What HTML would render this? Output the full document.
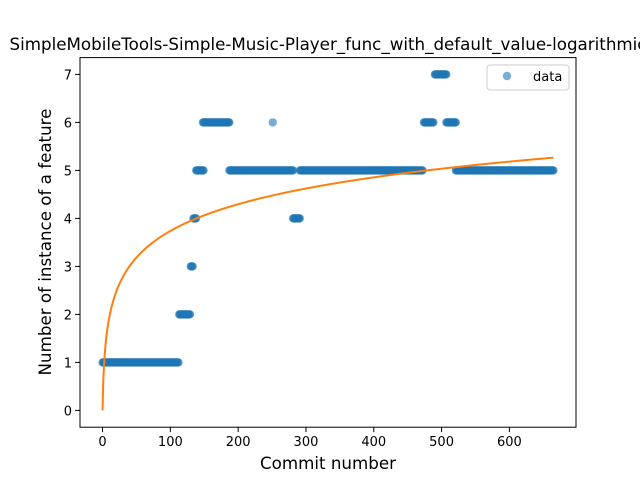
<!DOCTYPE html>
<html><head><meta charset="utf-8"><style>
body{margin:0;background:#fff}
svg{font-family:"DejaVu Sans","Liberation Sans",sans-serif}
</style></head><body>
<svg id="chart" width="640" height="480" viewBox="0 0 640 480">
<rect width="640" height="480" fill="#fff"/>
<g id="pts"></g>
<path id="fit" fill="none" stroke="#ff7f0e" stroke-width="2"/>
<rect x="80" y="57.6" width="496" height="369.6" fill="none" stroke="#000" stroke-width="1"/>
<g id="xt"></g>
<g id="yt"></g>
<text x="328" y="50" text-anchor="middle" font-size="16.7">SimpleMobileTools-Simple-Music-Player_func_with_default_value-logarithmic</text>
<text x="328" y="469" text-anchor="middle" font-size="16.7">Commit number</text>
<text transform="translate(51,242) rotate(-90)" text-anchor="middle" font-size="16.7">Number of instance of a feature</text>
<g>
<rect x="487" y="65" width="82" height="25" rx="3" fill="#fff" fill-opacity="0.8" stroke="#ccc"/>
<circle cx="507" cy="76" r="4.2" fill="#1f77b4" fill-opacity="0.6"/>
<text x="533" y="81" font-size="13">data</text>
</g>
</svg>
<script>
const segStart=[0,113,130,134,138,148,187,251,281,291,474,490,507,521];
const segEnd=[112,129,133,138,149,187,281,251,291,472,488,507,521,665];
const segValue=[1,2,3,4,5,6,5,6,4,5,6,7,6,5];
const xTicks=[0,100,200,300,400,500,600];
const yTicks=[0,1,2,3,4,5,6,7];
const fitCoef=0.81;
const xMin=-33.25,xMax=698.25,yMin=-0.35,yMax=7.35;
const L=80,R=576,T=57.6,B=427.2;
function sx(v){return L+(v-xMin)/(xMax-xMin)*(R-L);}
function sy(v){return B-(v-yMin)/(yMax-yMin)*(B-T);}
const NS="http://www.w3.org/2000/svg";
const pts=document.getElementById('pts');
for(let s=0;s<segStart.length;s++){
  for(let i=segStart[s];i<=segEnd[s];i++){
    const c=document.createElementNS(NS,'circle');
    c.setAttribute('cx',sx(i));c.setAttribute('cy',sy(segValue[s]));
    c.setAttribute('r',4.2);c.setAttribute('fill','#1f77b4');c.setAttribute('fill-opacity','0.6');
    
    
    pts.appendChild(c);
  }
}
let d='';
for(let x=0;x<=665;x+=0.5){d+=(x===0?'M':'L')+sx(x).toFixed(2)+','+sy(fitCoef*Math.log(x+1)).toFixed(2);}
document.getElementById('fit').setAttribute('d',d);
const xt=document.getElementById('xt');
xTicks.forEach(v=>{
  const l=document.createElementNS(NS,'line');
  l.setAttribute('x1',sx(v));l.setAttribute('x2',sx(v));l.setAttribute('y1',B);l.setAttribute('y2',B+4.9);l.setAttribute('stroke','#000');
  
  
  xt.appendChild(l);
  const t=document.createElementNS(NS,'text');
  t.setAttribute('x',sx(v));t.setAttribute('y',B+19);t.setAttribute('text-anchor','middle');t.setAttribute('font-size','13');
  t.textContent=v;
  
  
  xt.appendChild(t);
});
const yt=document.getElementById('yt');
yTicks.forEach(v=>{
  const l=document.createElementNS(NS,'line');
  l.setAttribute('x1',L-4.9);l.setAttribute('x2',L);l.setAttribute('y1',sy(v));l.setAttribute('y2',sy(v));l.setAttribute('stroke','#000');
  
  
  yt.appendChild(l);
  const t=document.createElementNS(NS,'text');
  t.setAttribute('x',L-8);t.setAttribute('y',sy(v)+5);t.setAttribute('text-anchor','end');t.setAttribute('font-size','13');
  t.textContent=v;
  
  
  yt.appendChild(t);
});
</script>
</body></html>
